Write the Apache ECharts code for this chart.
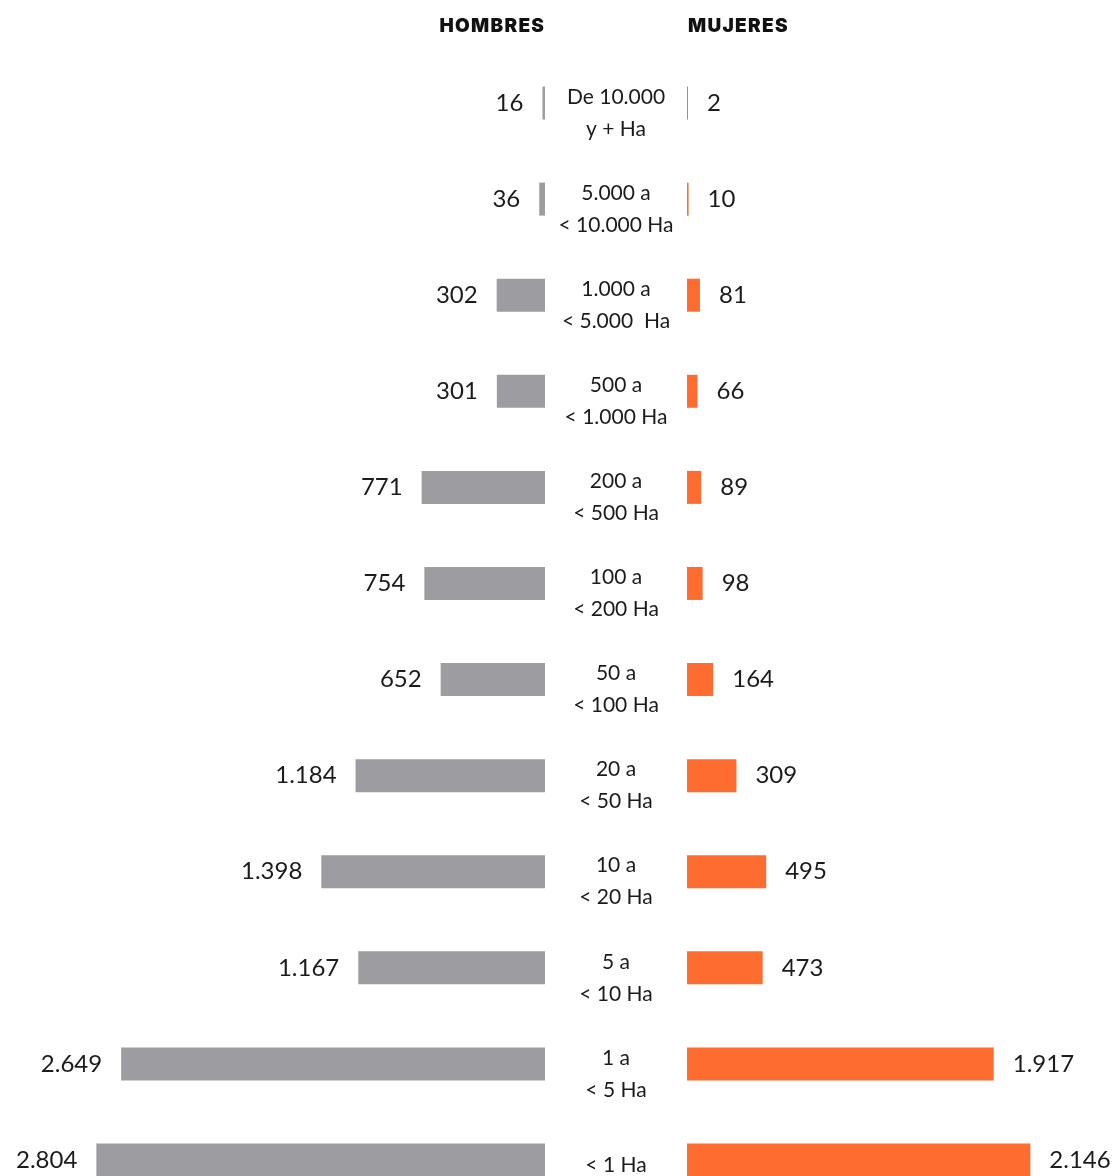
<!DOCTYPE html>
<html><head><meta charset="utf-8">
<script src="https://cdn.jsdelivr.net/npm/echarts@6/dist/echarts.min.js"></script>
<style>html,body{margin:0;padding:0;background:#fff}#c{width:1115px;height:1176px}</style>
</head><body><div id="c"></div>
<script>
const rangos = ["De 10.000\ny + Ha","5.000 a\n< 10.000 Ha","1.000 a\n< 5.000  Ha","500 a\n< 1.000 Ha","200 a\n< 500 Ha","100 a\n< 200 Ha","50 a\n< 100 Ha","20 a\n< 50 Ha","10 a\n< 20 Ha","5 a\n< 10 Ha","1 a\n< 5 Ha","< 1 Ha"];
const hombres = [16,36,302,301,771,754,652,1184,1398,1167,2649,2804];
const mujeres = [2,10,81,66,89,98,164,309,495,473,1917,2146];
const encabezados = ["HOMBRES","MUJERES"];

const FONT = "Lato, 'Noto Sans', sans-serif";
const HFONT = "Inter, 'DejaVu Sans', sans-serif";
const INK = "#1b1b1b";
const fmt = v => String(v).replace(/\B(?=(\d{3})+(?!\d))/g, ".");
const spaced = s => s.split("").join("\u200A");
const rangoLabel = v => {
  const lines = v.split("\n");
  const sp = lines.length > 1 ? "{sp| }" : "{sq| }";
  return sp + "\n" + lines.map(l => "{t|" + l + "}").join("\n");
};

const chart = echarts.init(document.getElementById("c"), null, {renderer: "canvas"});

chart.setOption({
  animation: false,
  backgroundColor: "#fff",
  grid: [
    {left: 65, width: 480, top: 55, height: 1153, outerBoundsMode: "none"},
    {left: 687, width: 480, top: 55, height: 1153, outerBoundsMode: "none"}
  ],
  xAxis: [
    {gridIndex: 0, type: "value", min: 0, max: 3000, inverse: true, show: false},
    {gridIndex: 1, type: "value", min: 0, max: 3000, show: false}
  ],
  yAxis: [
    {gridIndex: 0, type: "category", data: rangos, inverse: true, show: false},
    {gridIndex: 1, type: "category", data: rangos, inverse: true,
     axisLine: {show: false}, axisTick: {show: false}, splitLine: {show: false},
     axisLabel: {align: "center", margin: 71, color: INK, fontFamily: FONT,
       formatter: rangoLabel,
       rich: {
         sp: {fontSize: 4, lineHeight: 20},
         sq: {fontSize: 4, lineHeight: 10},
         t: {fontSize: 21, lineHeight: 32, color: INK, fontFamily: FONT, align: "center"}
       }}}
  ],
  graphic: [
    {type: "text", x: 544, y: 26,
     style: {text: spaced(encabezados[0]), font: "900 19px " + HFONT, fill: "#111",
       align: "right", verticalAlign: "middle"}},
    {type: "text", x: 688, y: 26,
     style: {text: spaced(encabezados[1]), font: "900 19px " + HFONT, fill: "#111",
       align: "left", verticalAlign: "middle"}}
  ],
  series: [
    {type: "bar", xAxisIndex: 0, yAxisIndex: 0, data: hombres, barWidth: 33, barMinHeight: 1,
     itemStyle: {color: "#9d9ca1"},
     label: {show: true, position: "left", distance: 19, fontSize: 24, color: INK,
       fontFamily: FONT, formatter: p => fmt(p.value)}},
    {type: "bar", xAxisIndex: 1, yAxisIndex: 1, data: mujeres, barWidth: 33, barMinHeight: 1,
     itemStyle: {color: "#ff6c2f"},
     label: {show: true, position: "right", distance: 19, fontSize: 24, color: INK,
       fontFamily: FONT, formatter: p => fmt(p.value)}}
  ]
});
</script></body></html>
